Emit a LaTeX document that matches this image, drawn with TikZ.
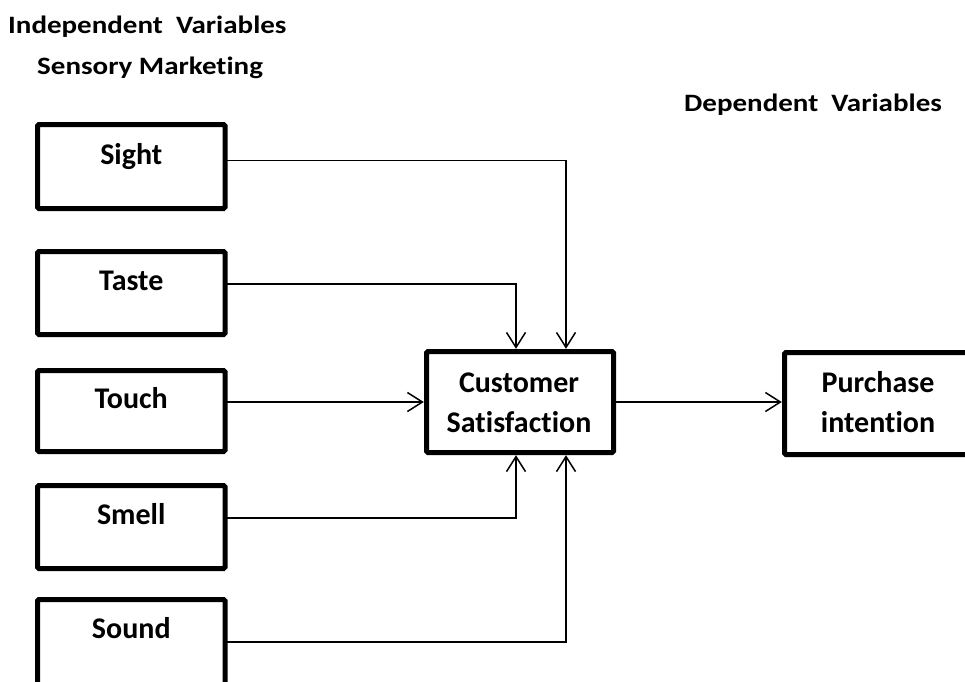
\documentclass[tikz,border=0pt]{standalone}
\usepackage{fontspec}
\setmainfont[Ligatures=NoCommon]{Carlito}
\newfontfamily\headfont[FakeStretch=1.16,Ligatures=NoCommon]{Carlito}
\usetikzlibrary{arrows.meta,calc}
\tikzset{
  varbox/.style={draw=black, line width=5pt, rounded corners=1.5pt, fill=white},
  anchorbox/.style={inner sep=0pt, minimum width=187.5pt},
  boxtext/.style={font=\fontsize{30}{40}\selectfont\bfseries, inner sep=0pt, anchor=base},
  title/.style={font=\headfont\fontsize{25}{30}\selectfont\bfseries, inner sep=0pt, anchor=base west},
  link/.style={draw=black, line width=1.5pt, -{Straight Barb[length=15pt,width=19pt,line width=1.5pt]}}
}
\begin{document}
\begin{tikzpicture}[x=1pt,y=-1pt]
\useasboundingbox (0,0) rectangle (965,681);
\clip (0,0) rectangle (965,681);

% headings
\node[title] (indep) at (8,33) {Independent\ \ Variables};
\node[title] (sens) at (37,74) {Sensory Marketing};
\node[title] (dep) at (684,111) {Dependent\ \ Variables};

% sensory input boxes
\path[varbox] (37.5,124.5) rectangle (225,208.5);
\node[anchorbox, minimum height=84pt] (sight) at (131.25,166.5) {};
\node[boxtext] (sightT) at (131.25,164) {Sight};

\path[varbox] (37.5,251.5) rectangle (225,334.5);
\node[anchorbox, minimum height=83pt] (taste) at (131.25,293) {};
\node[boxtext] (tasteT) at (131.25,290) {Taste};

\path[varbox] (37.5,370.5) rectangle (225,451.5);
\node[anchorbox, minimum height=81pt] (touch) at (131.25,411) {};
\node[boxtext] (touchT) at (131.25,408) {Touch};

\path[varbox] (37.5,485.5) rectangle (225,568.5);
\node[anchorbox, minimum height=83pt] (smell) at (131.25,527) {};
\node[boxtext] (smellT) at (131.25,524) {Smell};

\path[varbox] (37.5,599.5) rectangle (225,700);
\node[anchorbox, minimum height=85pt] (sound) at (131.25,642) {};
\node[boxtext] (soundT) at (131.25,638) {Sound};

% mediator
\path[varbox] (426.5,351.5) rectangle (613.5,452.5);
\node[inner sep=0pt, minimum width=192pt, minimum height=106pt] (cust) at (520,402) {};
\node[boxtext] (custT1) at (519,392) {Customer};
\node[boxtext] (custT2) at (519,432) {Satisfaction};

% outcome
\path[varbox] (784.5,352.5) rectangle (1000,454.5);
\node[inner sep=0pt, minimum width=218pt, minimum height=105pt] (purch) at (891,403.5) {};
\node[boxtext] (purchT1) at (878,392) {Purchase};
\node[boxtext] (purchT2) at (878,432) {intention};

% connector start points and drop lines
\coordinate (sightOut) at ([yshift=6pt]sight.east);
\coordinate (tasteOut) at ([yshift=9pt]taste.east);
\coordinate (touchOut) at ([yshift=9pt]touch.east);
\coordinate (smellOut) at ([yshift=9pt]smell.east);
\coordinate (soundOut) at (sound.east);
\coordinate (cA) at (516,0);
\coordinate (cB) at (566,0);

\draw[link] (sightOut) -| (cB |- cust.north);
\draw[link] (tasteOut) -| (cA |- cust.north);
\draw[link] (touchOut) -- (touchOut -| cust.west);
\draw[link] (smellOut) -| (cA |- cust.south);
\draw[link] (soundOut) -| (cB |- cust.south);
\draw[link] (cust.east) -- (cust.east -| purch.west);
\end{tikzpicture}
\end{document}
